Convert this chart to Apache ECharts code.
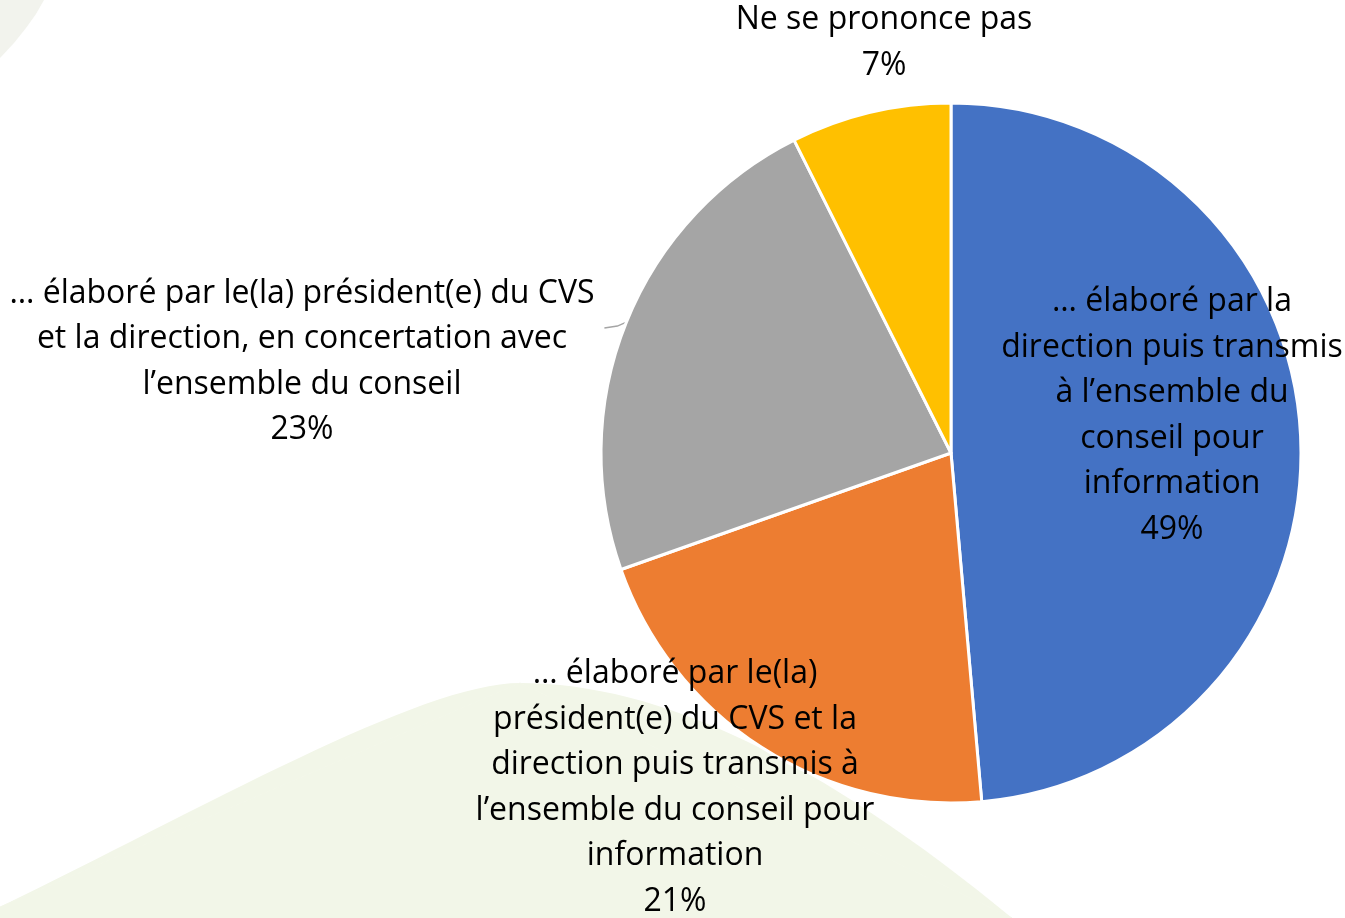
<!DOCTYPE html>
<html lang="fr">
<head>
    <meta charset="UTF-8">
    <title>Pie</title>
    <script src="https://cdn.jsdelivr.net/npm/echarts@6/dist/echarts.min.js"></script>
    <style>
        html, body {
            margin: 0;
            padding: 0;
            background: #ffffff;
        }
        #main {
            width: 1345px;
            height: 918px;
        }
    </style>
</head>
<body>
<div id="main"></div>

<script type="text/javascript">
    // data
    var categories = [
        '… élaboré par la\ndirection puis transmis\nà l’ensemble du\nconseil pour\ninformation',
        '… élaboré par le(la)\nprésident(e) du CVS et la\ndirection puis transmis à\nl’ensemble du conseil pour\ninformation',
        '… élaboré par le(la) président(e) du CVS\net la direction, en concertation avec\nl’ensemble du conseil',
        'Ne se prononce pas'
    ];
    var values = [48.6, 21.0, 23.0, 7.4];
    var colors = ['#4472C4', '#ED7D31', '#A5A5A5', '#FFC000'];

    // label anchor (centre of text block), pixels
    var labelPos = [[1172, 416], [675, 788], [302, 362], [884, 43]];

    var mydata = [];
    for (var i = 0; i < categories.length; i++) {
        mydata.push({
            value: values[i],
            name: categories[i],
            itemStyle: { color: colors[i] },
            labelLine: { show: i === 2 }
        });
    }

    var myChart = echarts.init(document.getElementById('main'));

    var hill = '#f2f6e8';
    var option = {
        backgroundColor: '#ffffff',
        animation: false,
        graphic: [
            // faint shape top-left
            {
                type: 'polygon',
                z: -10,
                shape: { points: [[0, 0], [44, 0], [36, 14], [26, 28], [14, 43], [0, 58]] },
                style: { fill: '#f2f3ed' }
            },
            // pale green hill at the bottom
            {
                type: 'polygon',
                z: -10,
                shape: { points: [[0, 907], [520, 683], [1012, 918], [0, 918]] },
                style: { fill: hill, stroke: hill, lineWidth: 1 }
            },
            {
                type: 'bezierCurve',
                z: -10,
                shape: { x1: 0, y1: 907, x2: 520, y2: 683, cpx1: 200, cpy1: 810, cpx2: 420, cpy2: 683 },
                style: { fill: hill, stroke: null }
            },
            {
                type: 'bezierCurve',
                z: -10,
                shape: { x1: 520, y1: 683, x2: 1012, y2: 918, cpx1: 660, cpy1: 683, cpx2: 820, cpy2: 760 },
                style: { fill: hill, stroke: null }
            }
        ],
        series: [
            {
                type: 'pie',
                center: [951, 453],
                radius: 350,
                startAngle: 90,
                clockwise: true,
                data: mydata,
                itemStyle: {
                    borderColor: '#ffffff',
                    borderWidth: 3
                },
                label: {
                    show: true,
                    position: 'outside',
                    overflow: 'none',
                    color: '#000',
                    fontFamily: 'Open Sans',
                    fontSize: 32,
                    lineHeight: 45.5,
                    align: 'center',
                    formatter: function (p) {
                        return p.name + '\n' + Math.round(p.percent) + '%';
                    }
                },
                labelLine: {
                    length: 0,
                    length2: 0,
                    smooth: false,
                    lineStyle: { color: '#a5a5a5', width: 1.5 }
                },
                labelLayout: function (params) {
                    var pos = labelPos[params.dataIndex];
                    var res = {
                        x: pos[0],
                        y: pos[1],
                        align: 'center',
                        verticalAlign: 'middle'
                    };
                    var pts = params.labelLinePoints;
                    if (pts && pts.length) {
                        var p0 = pts[0];
                        res.labelLinePoints = [
                            [p0[0], p0[1]],
                            [p0[0] - 9, p0[1] + 4],
                            [p0[0] - 22, p0[1] + 6]
                        ];
                    }
                    return res;
                }
            }
        ]
    };
    myChart.setOption(option);
</script>
</body>
</html>
